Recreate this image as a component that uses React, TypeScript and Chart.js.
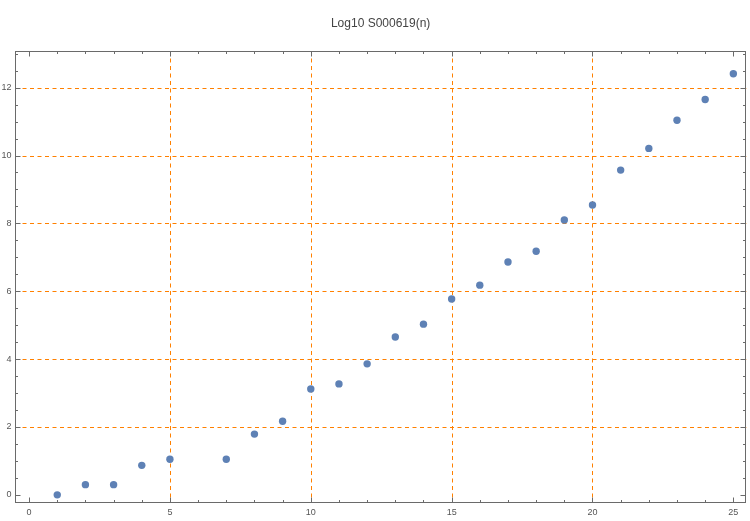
import React, { useEffect, useRef } from "react";
import { Chart, registerables } from "chart.js";
Chart.register(...registerables);

const titleText = "Log10 S000619(n)";
const nValues = [1, 2, 3, 4, 5, 7, 8, 9, 10, 11, 12, 13, 14, 15, 16, 17, 18, 19, 20, 21, 22, 23, 24, 25];
const logValues = [0, 0.301, 0.301, 0.87, 1.05, 1.05, 1.79, 2.17, 3.12, 3.27, 3.86, 4.65, 5.03, 5.77, 6.18, 6.86, 7.18, 8.1, 8.54, 9.57, 10.21, 11.04, 11.65, 12.41];
const xTickLabels = [0, 5, 10, 15, 20, 25];
const yTickLabels = [0, 2, 4, 6, 8, 10, 12];
const xGridValues = [5, 10, 15, 20];
const yGridValues = [2, 4, 6, 8, 10, 12];
const xMinorStep = 1;
const yMinorStep = 0.5;

const AXIS_COLOR = "#6a6a6a";
const LABEL_COLOR = "#555555";
const GRID_COLOR = "#FF8000";
const POINT_COLOR = "#5E81B5";

const framePlugin = {
  id: "mmaFrame",
  beforeDatasetsDraw(chart: any) {
    const { ctx, chartArea: a, scales } = chart;
    const x = scales.x;
    const y = scales.y;
    ctx.save();
    // grid lines
    ctx.strokeStyle = GRID_COLOR;
    ctx.lineWidth = 1;
    ctx.setLineDash([4, 3.5]);
    xGridValues.forEach((v) => {
      const px = Math.round(x.getPixelForValue(v)) + 0.5;
      ctx.beginPath();
      ctx.moveTo(px, a.top);
      ctx.lineTo(px, a.bottom);
      ctx.stroke();
    });
    yGridValues.forEach((v) => {
      const py = Math.round(y.getPixelForValue(v)) + 0.5;
      ctx.beginPath();
      ctx.moveTo(a.left, py);
      ctx.lineTo(a.right, py);
      ctx.stroke();
    });
    ctx.setLineDash([]);

    // frame
    ctx.strokeStyle = AXIS_COLOR;
    ctx.lineWidth = 1;
    const L = Math.round(a.left) + 0.5;
    const R = Math.round(a.right) - 0.5;
    const T = Math.round(a.top) + 0.5;
    const B = Math.round(a.bottom) - 0.5;
    ctx.strokeRect(L, T, R - L, B - T);

    // ticks
    const xMajor = new Set(xTickLabels);
    const yMajor = new Set(yTickLabels);
    const x0 = xTickLabels[0];
    const x1 = xTickLabels[xTickLabels.length - 1];
    ctx.beginPath();
    for (let v = x0; v <= x1 + 1e-9; v += xMinorStep) {
      const px = Math.round(x.getPixelForValue(v)) + 0.5;
      const len = xMajor.has(v) ? 5 : 2.5;
      ctx.moveTo(px, B);
      ctx.lineTo(px, B - len);
      ctx.moveTo(px, T);
      ctx.lineTo(px, T + len);
    }
    const y0 = yTickLabels[0];
    const yTop = y.max;
    for (let v = y0; v <= yTop + 1e-9; v += yMinorStep) {
      const py = Math.round(y.getPixelForValue(v)) + 0.5;
      const len = yMajor.has(v) ? 5 : 2.5;
      ctx.moveTo(L, py);
      ctx.lineTo(L + len, py);
      ctx.moveTo(R, py);
      ctx.lineTo(R - len, py);
    }
    ctx.stroke();

    // labels
    ctx.fillStyle = LABEL_COLOR;
    ctx.font = "9px 'Liberation Sans', Arial, sans-serif";
    ctx.textAlign = "center";
    ctx.textBaseline = "middle";
    xTickLabels.forEach((v) => {
      ctx.fillText(String(v), x.getPixelForValue(v), B + 10);
    });
    ctx.textAlign = "right";
    yTickLabels.forEach((v) => {
      ctx.fillText(String(v), L - 4, y.getPixelForValue(v));
    });

    // title
    ctx.fillStyle = "#444444";
    ctx.font = "12px 'Liberation Sans', Arial, sans-serif";
    ctx.textAlign = "center";
    ctx.textBaseline = "middle";
    ctx.fillText(titleText, (a.left + a.right) / 2, 24);
    ctx.restore();
  },
};

export default function App() {
  const ref = useRef<HTMLCanvasElement | null>(null);
  useEffect(() => {
    document.body.style.margin = "0";
    const canvas = ref.current;
    if (!canvas) return;
    const chart = new Chart(canvas, {
      type: "scatter",
      data: {
        datasets: [
          {
            data: nValues.map((n, i) => ({ x: n, y: logValues[i] })),
            backgroundColor: POINT_COLOR,
            borderWidth: 0,
            pointRadius: 3.7,
            pointHoverRadius: 3.7,
            clip: false as any,
          },
        ],
      },
      options: {
        responsive: false,
        animation: false,
        devicePixelRatio: 1,
        layout: { padding: { left: 15, right: 3, top: 51, bottom: 18 } },
        plugins: { legend: { display: false }, tooltip: { enabled: false }, title: { display: false } },
        scales: {
          x: { type: "linear", min: -0.5, max: 25.46, display: false },
          y: { type: "linear", min: -0.24, max: 13.08, display: false },
        },
      },
      plugins: [framePlugin],
    });
    return () => chart.destroy();
  }, []);
  return <canvas ref={ref} width={750} height={521} style={{ display: "block" }} />;
}
